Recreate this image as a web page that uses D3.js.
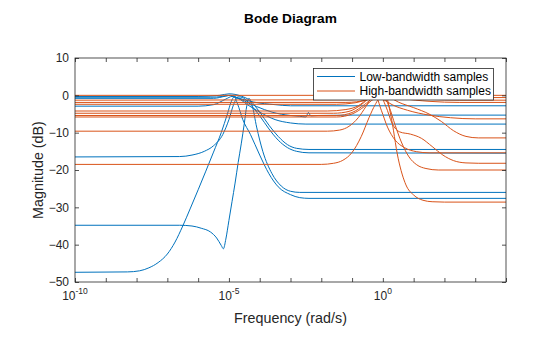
<!DOCTYPE html>
<html>
<head>
<meta charset="utf-8">
<script src="https://cdn.jsdelivr.net/npm/d3@7"></script>
<style>
  body { margin: 0; background: #fff; }
  svg { display: block; font-family: "Liberation Sans", Arial, sans-serif; }
</style>
</head>
<body>
<div id="chart"></div>
<script>
const width = 560;
const height = 337;

// each sample: [log10(frequency in rad/s), magnitude in dB]
const lowBandwidth = [
  [[-10,-47.4],[-8.3,-47.3],[-7.9,-47],[-7.6,-46.2],[-7.3,-44.8],[-7.0,-42.5],[-6.75,-39.3],[-6.5,-35],[-6.25,-30.2],[-6.0,-25.3],[-5.75,-20.3],[-5.5,-15.2],[-5.25,-10],[-5.05,-5],[-4.92,-1.6],[-4.83,-0.4],[-4.72,-2.3],[-4.55,-6.5],[-4.3,-10.5],[-4.0,-16],[-3.7,-21],[-3.4,-24.5],[-3.0,-26.6],[-2.7,-27.4],[-2.4,-27.6],[4,-27.6]],
  [[-10,-34.8],[-6.6,-34.8],[-6.2,-35],[-5.9,-35.6],[-5.6,-36.6],[-5.4,-38.2],[-5.25,-40.2],[-5.18,-41.1],[-5.1,-38.5],[-5.0,-33.5],[-4.9,-28.5],[-4.8,-23.5],[-4.7,-18],[-4.6,-13],[-4.5,-7.5],[-4.42,-2.8],[-4.35,-0.8],[-4.25,-2.5],[-4.1,-8.5],[-3.9,-15],[-3.6,-21],[-3.3,-24.3],[-3.0,-25.7],[-2.7,-26],[4,-26]],
  [[-10,-16.5],[-6.6,-16.4],[-6.2,-16],[-5.8,-15],[-5.5,-13.5],[-5.2,-10.5],[-5.0,-6.5],[-4.85,-2.5],[-4.7,-0.4],[-4.55,-0.6],[-4.3,-2.5],[-4.0,-5.5],[-3.7,-9],[-3.4,-12],[-3.1,-14],[-2.8,-15],[-2.4,-15.4],[4,-15.5]],
  [[-10,-0.3],[-6,-0.3],[-5.3,0],[-5.0,0.4],[-4.6,-0.2],[-4.3,-1.5],[-4.0,-4.5],[-3.7,-8],[-3.4,-11],[-3.1,-13.2],[-2.8,-14.2],[-2.4,-14.5],[4,-14.5]],
  [[-10,-2.9],[-6,-2.9],[-5.5,-2.5],[-5.1,-1],[-4.9,-0.3],[-4.7,-0.8],[-4.4,-2.5],[-4.0,-4.5],[-3.5,-6.5],[-3.0,-7.4],[-2.5,-7.7],[4,-7.7]],
  [[-10,-0.5],[-5.6,-0.5],[-5.2,-0.3],[-5.0,0],[-4.8,-0.5],[-4.5,-1.5],[-4.1,-3],[-3.6,-4.5],[-3.0,-5.4],[-2.7,-5.6],[-2.5,-5.8],[-2.42,-4.6],[-2.34,-5.5],[-2.1,-5.4],[-1,-5.3],[4,-5.3]],
  [[-10,-0.8],[-5.5,-0.8],[-5.1,-0.2],[-4.95,0],[-4.7,-0.7],[-4.2,-1.8],[-3.5,-2.5],[-3.0,-2.8],[4,-2.8]]
];

const highBandwidth = [
  [[-10,0],[-0.5,0],[0,0.6],[0.5,0.2],[1.5,0],[4,0]],
  [[-10,-1.3],[-1,-1.2],[-0.3,-0.2],[0.2,0.3],[1,-0.3],[2,-0.6],[4,-0.6]],
  [[-10,-1.9],[-1.2,-1.9],[-0.5,-1.2],[0,0.3],[0.6,-0.5],[1.5,-1.1],[2.5,-1.3],[4,-1.3]],
  [[-10,-2.4],[-1.5,-2.4],[-0.9,-2],[-0.4,-0.8],[0,0],[0.2,-0.5],[0.5,-1.8],[1,-3.3],[1.5,-5],[1.9,-7],[2.3,-9.5],[2.7,-11],[3.1,-11.4],[4,-11.4]],
  [[-10,-4.2],[-1.8,-4.2],[-1.2,-3.8],[-0.8,-2.8],[-0.5,-1],[-0.2,0.5],[0.1,0],[0.6,-0.8],[1.5,-1.6],[2.5,-1.9],[4,-1.9]],
  [[-10,-4.8],[-1.6,-4.8],[-1.1,-4.3],[-0.7,-2.5],[-0.4,-0.5],[-0.25,0],[-0.05,-4],[0.15,-8.5],[0.4,-12],[0.7,-14],[1.1,-15.1],[1.5,-15.4],[4,-15.4]],
  [[-10,-5.4],[-1.5,-5.4],[-1,-4.6],[-0.6,-2.5],[-0.3,-0.6],[-0.1,0],[0.1,-3],[0.3,-7.5],[0.55,-9.8],[0.9,-10.4],[1.25,-11.5],[1.6,-13.7],[1.95,-16],[2.3,-17.5],[2.7,-18.1],[3.1,-18.2],[4,-18.2]],
  [[-10,-5.8],[-1.5,-5.8],[-1,-5],[-0.6,-3],[-0.3,-1],[0,0],[0.2,-3],[0.4,-8],[0.6,-12.5],[0.85,-16.5],[1.1,-18.6],[1.4,-19.6],[1.8,-20],[4,-20]],
  [[-10,-9.6],[-1.8,-9.6],[-1.4,-9.3],[-1.1,-8.3],[-0.8,-6],[-0.55,-3],[-0.35,-0.5],[-0.2,0],[0,-1],[0.3,-2.5],[0.8,-4],[1.5,-5.3],[2.2,-6],[3,-6.3],[4,-6.3]],
  [[-10,-18.5],[-2,-18.5],[-1.6,-18.2],[-1.3,-17.4],[-1,-15.3],[-0.7,-11],[-0.45,-6],[-0.25,-2.5],[-0.05,-0.3],[0.1,-0.3],[0.25,-5],[0.5,-17],[0.75,-24],[1.0,-26.7],[1.3,-28.1],[1.6,-28.5],[2,-28.6],[4,-28.6]]
];

const seriesNames = ["Low-bandwidth samples", "High-bandwidth samples"];
const seriesColors = ["#0072BD", "#D95319"];
const xTickExponents = [-10,-9,-8,-7,-6,-5,-4,-3,-2,-1,0,1,2,3,4];
const xLabelExponents = [-10, -5, 0];
const yTicks = [10, 0, -10, -20, -30, -40, -50];

const plot = { left: 75, right: 506, top: 58, bottom: 282 };
const ink = "#262626";

const svg = d3.select("#chart")
  .append("svg")
  .attr("width", width)
  .attr("height", height);

const x = d3.scaleLog()
  .domain([1e-10, 1e4])
  .range([plot.left, plot.right]);

const y = d3.scaleLinear()
  .domain([-50, 10])
  .range([plot.bottom, plot.top]);

svg.append("defs").append("clipPath")
  .attr("id", "plotClip")
  .append("rect")
  .attr("x", plot.left)
  .attr("y", plot.top)
  .attr("width", plot.right - plot.left)
  .attr("height", plot.bottom - plot.top);

const line = d3.line()
  .x(d => x(Math.pow(10, d[0])))
  .y(d => y(d[1]))
  .curve(d3.curveMonotoneX);

const curves = svg.append("g").attr("clip-path", "url(#plotClip)");

[lowBandwidth, highBandwidth].forEach((group, i) => {
  curves.append("g")
    .selectAll("path")
    .data(group)
    .join("path")
    .attr("d", line)
    .attr("fill", "none")
    .attr("stroke", seriesColors[i])
    .attr("stroke-width", 1);
});

// axes, ticks pointing inward on all four sides
const tickVals = xTickExponents.map(e => Math.pow(10, e));

svg.append("g")
  .attr("transform", `translate(0,${plot.bottom})`)
  .call(d3.axisBottom(x).tickValues(tickVals).tickSize(-4).tickSizeOuter(0).tickFormat(() => ""));

svg.append("g")
  .attr("transform", `translate(0,${plot.top})`)
  .call(d3.axisTop(x).tickValues(tickVals).tickSize(-4).tickSizeOuter(0).tickFormat(() => ""));

svg.append("g")
  .attr("transform", `translate(${plot.left},0)`)
  .call(d3.axisLeft(y).tickValues(yTicks).tickSize(-4).tickSizeOuter(0).tickPadding(6).tickFormat(d3.format("d")))
  .call(g => g.selectAll("text").attr("font-size", 12).attr("fill", ink));

svg.append("g")
  .attr("transform", `translate(${plot.right},0)`)
  .call(d3.axisRight(y).tickValues(yTicks).tickSize(-4).tickSizeOuter(0).tickFormat(() => ""));

svg.selectAll(".domain").remove();
svg.selectAll(".tick line").attr("stroke", ink).attr("stroke-width", 0.8);

// power-of-ten labels
const xLabels = svg.append("g")
  .selectAll("text")
  .data(xLabelExponents)
  .join("text")
  .attr("x", d => x(Math.pow(10, d)))
  .attr("y", plot.bottom + 18)
  .attr("text-anchor", "middle")
  .attr("fill", ink)
  .attr("font-size", 12);

xLabels.append("tspan").text("10");
xLabels.append("tspan")
  .attr("dy", -6)
  .attr("font-size", 8.5)
  .text(d => d);

svg.append("rect")
  .attr("x", plot.left)
  .attr("y", plot.top)
  .attr("width", plot.right - plot.left)
  .attr("height", plot.bottom - plot.top)
  .attr("fill", "none")
  .attr("stroke", ink)
  .attr("stroke-width", 0.8);

// labels and title
svg.append("text")
  .attr("x", (plot.left + plot.right) / 2)
  .attr("y", 23)
  .attr("text-anchor", "middle")
  .attr("font-size", 13.7)
  .attr("font-weight", "bold")
  .attr("fill", "#000")
  .text("Bode Diagram");

svg.append("text")
  .attr("x", (plot.left + plot.right) / 2)
  .attr("y", 323)
  .attr("text-anchor", "middle")
  .attr("font-size", 14.3)
  .attr("fill", ink)
  .text("Frequency (rad/s)");

svg.append("text")
  .attr("transform", `translate(43,${(plot.top + plot.bottom) / 2}) rotate(-90)`)
  .attr("text-anchor", "middle")
  .attr("font-size", 14.3)
  .attr("fill", ink)
  .text("Magnitude (dB)");

// legend
const legend = svg.append("g");
legend.append("rect")
  .attr("x", 313.5)
  .attr("y", 68.5)
  .attr("width", 180)
  .attr("height", 31.5)
  .attr("fill", "#fff")
  .attr("stroke", ink)
  .attr("stroke-width", 0.8);

const items = legend.selectAll("g.item")
  .data(seriesNames)
  .join("g")
  .attr("class", "item")
  .attr("transform", (d, i) => `translate(0,${76.5 + i * 14.5})`);

items.append("line")
  .attr("x1", 317)
  .attr("x2", 355)
  .attr("stroke", (d, i) => seriesColors[i])
  .attr("stroke-width", 1);

items.append("text")
  .attr("x", 359.5)
  .attr("y", 4.2)
  .attr("font-size", 12)
  .attr("fill", "#000")
  .text(d => d);
</script>
</body>
</html>
